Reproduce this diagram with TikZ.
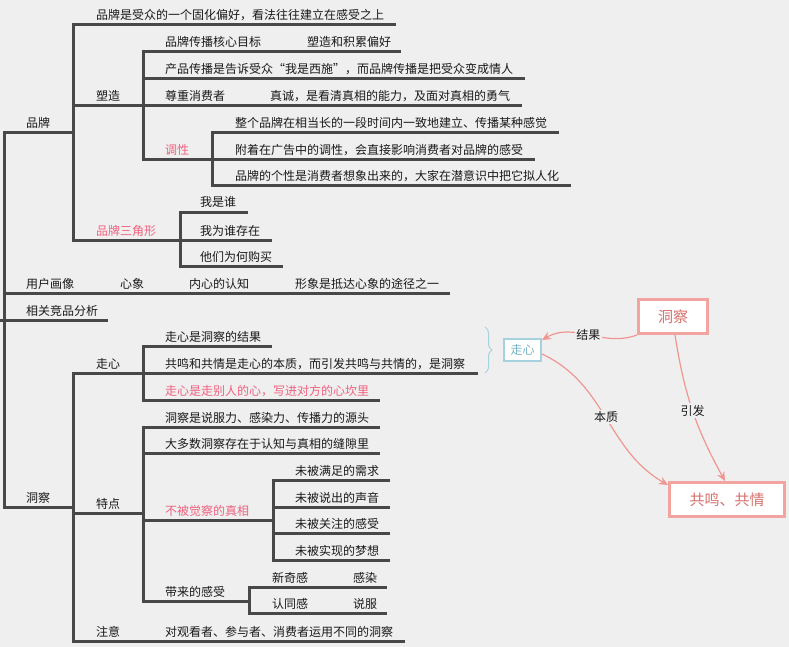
\documentclass[tikz,border=0pt]{standalone}
\usepackage{fontspec}
\setmainfont{Noto Sans CJK SC}
\usepackage{tikz}
\usetikzlibrary{positioning, calc, arrows.meta, decorations.pathreplacing}
\definecolor{canvas}{RGB}{239, 239, 239}
\definecolor{branchgray}{RGB}{72, 72, 72}
\definecolor{ink}{RGB}{25, 25, 25}
\definecolor{accentpink}{RGB}{240, 98, 128}
\definecolor{notepink}{RGB}{242, 165, 160}
\definecolor{notetext}{RGB}{214, 112, 108}
\definecolor{arrowpink}{RGB}{240, 150, 145}
\definecolor{noteblue}{RGB}{166, 210, 224}
\definecolor{bluetext}{RGB}{120, 180, 200}

\begin{document}
\begin{tikzpicture}[
    x=1pt, y=1pt,
    font=\fontsize{12}{14}\selectfont,
    item/.style={anchor=base west, inner sep=0pt, text=ink},
    hot/.style={item, text=accentpink},
    branch/.style={draw=branchgray, line width=3pt},
    note/.style={draw=notepink, line width=3pt, fill=white, text=notetext, font=\fontsize{15}{18}\selectfont, minimum height=34pt, inner sep=0pt},
    rel/.style={draw=arrowpink, line width=1.2pt, -{Stealth[length=9pt, width=8pt]}},
    rellabel/.style={fill=canvas, inner sep=1.5pt, text=ink}
  ]
  \fill[canvas] (0,0) rectangle (789,-647);
  \useasboundingbox (0,0) rectangle (789,-647);

  % Branch: 品牌
  \node[item] (br) at (26,-128) {品牌};
  \node[item] (br1) at (96,-20) {品牌是受众的一个固化偏好，看法往往建立在感受之上};
  \node[item] (sz) at (96,-101) {塑造};
  \node[item] (sz1a) at (165,-47) {品牌传播核心目标};
  \node[item] (sz1b) at (307,-47) {塑造和积累偏好};
  \node[item] (sz2) at (165,-74) {产品传播是告诉受众“我是西施”，而品牌传播是把受众变成情人};
  \node[item] (sz3a) at (165,-101) {尊重消费者};
  \node[item] (sz3b) at (270,-101) {真诚，是看清真相的能力，及面对真相的勇气};
  \node[hot] (tx) at (165,-155) {调性};
  \node[item] (tx1) at (235,-128) {整个品牌在相当长的一段时间内一致地建立、传播某种感觉};
  \node[item] (tx2) at (235,-155) {附着在广告中的调性，会直接影响消费者对品牌的感受};
  \node[item] (tx3) at (235,-181) {品牌的个性是消费者想象出来的，大家在潜意识中把它拟人化};
  \node[hot] (sj) at (96,-235) {品牌三角形};
  \node[item] (sj1) at (200,-207) {我是谁};
  \node[item] (sj2) at (200,-235) {我为谁存在};
  \node[item] (sj3) at (200,-261) {他们为何购买};

  \coordinate (root) at (4,-300);
  \coordinate (br-j) at (73,-133);
  \coordinate (sz-j) at (143,-106);
  \coordinate (tx-j) at (212,-160);
  \coordinate (sj-j) at (180,-240);
  \coordinate (br1-e) at (396,-25);
  \coordinate (sz1-e) at (401,-52);
  \coordinate (sz2-e) at (525,-79);
  \coordinate (sz3-e) at (522,-106);
  \coordinate (tx1-e) at (559,-133);
  \coordinate (tx2-e) at (535,-160);
  \coordinate (tx3-e) at (571,-186);
  \coordinate (sj1-e) at (248,-212);
  \coordinate (sj2-e) at (272,-240);
  \coordinate (sj3-e) at (283,-266);

  \draw[branch] (br1-e) -| (br-j) |- (sj-j);
  \draw[branch] (br-j |- sz-j) -- (sz3-e);
  \draw[branch] (sz1-e) -| (sz-j) |- (tx-j);
  \draw[branch] (sz-j |- sz2-e) -- (sz2-e);
  \draw[branch] (tx1-e) -| (tx-j) |- (tx3-e);
  \draw[branch] (tx-j) -- (tx2-e);
  \draw[branch] (sj1-e) -| (sj-j) |- (sj3-e);
  \draw[branch] (sj-j) -- (sj2-e);

  % Branch: 用户画像, 相关竞品分析
  \node[item] (hx) at (26,-288) {用户画像};
  \node[item] (hx1) at (120,-288) {心象};
  \node[item] (hx2) at (189,-288) {内心的认知};
  \node[item] (hx3) at (295,-288) {形象是抵达心象的途径之一};
  \node[item] (jp) at (26,-315) {相关竞品分析};
  \coordinate (hx-e) at (450,-293);
  \coordinate (jp-s) at (0,-320);
  \coordinate (jp-e) at (108,-320);
  \draw[branch] (root |- hx-e) -- (hx-e);
  \draw[branch] (jp-s) -- (jp-e);

  % Branch: 洞察
  \node[item] (dc) at (26,-502) {洞察};
  \node[item] (zx) at (96,-368) {走心};
  \node[item] (zx1) at (165,-341) {走心是洞察的结果};
  \node[item] (zx2) at (165,-368) {共鸣和共情是走心的本质，而引发共鸣与共情的，是洞察};
  \node[hot] (zx3) at (165,-395) {走心是走别人的心，写进对方的心坎里};
  \node[item] (td) at (96,-508) {特点};
  \node[item] (td1) at (165,-422) {洞察是说服力、感染力、传播力的源头};
  \node[item] (td2) at (165,-448) {大多数洞察存在于认知与真相的缝隙里};
  \node[hot] (zh) at (165,-515) {不被觉察的真相};
  \node[item] (zh1) at (295,-475) {未被满足的需求};
  \node[item] (zh2) at (295,-502) {未被说出的声音};
  \node[item] (zh3) at (295,-528) {未被关注的感受};
  \node[item] (zh4) at (295,-555) {未被实现的梦想};
  \node[item] (gs) at (165,-596) {带来的感受};
  \node[item] (gs1a) at (272,-582) {新奇感};
  \node[item] (gs1b) at (353,-582) {感染};
  \node[item] (gs2a) at (272,-608) {认同感};
  \node[item] (gs2b) at (353,-608) {说服};
  \node[item] (zy) at (96,-636) {注意};
  \node[item] (zy1) at (165,-636) {对观看者、参与者、消费者运用不同的洞察};

  \coordinate (dc-j) at (73,-507);
  \coordinate (zx-j) at (143,-373);
  \coordinate (td-j) at (143,-513);
  \coordinate (zh-j) at (273,-520);
  \coordinate (gs-j) at (249,-601);
  \coordinate (zx1-e) at (272,-346);
  \coordinate (zx2-e) at (478,-373);
  \coordinate (zx3-e) at (380,-400);
  \coordinate (td1-e) at (380,-427);
  \coordinate (td2-e) at (380,-453);
  \coordinate (zh1-e) at (390,-480);
  \coordinate (zh2-e) at (390,-507);
  \coordinate (zh3-e) at (390,-533);
  \coordinate (zh4-e) at (390,-560);
  \coordinate (gs1-e) at (387,-587);
  \coordinate (gs2-e) at (387,-613);
  \coordinate (zy-e) at (405,-641);

  \draw[branch] (br-j) -| (root) |- (dc-j);
  \draw[branch] (zx-j) -| (dc-j) |- (zy-e);
  \draw[branch] (dc-j |- td-j) -- (td-j);
  \draw[branch] (zx1-e) -| (zx-j) |- (zx3-e);
  \draw[branch] (zx-j) -- (zx2-e);
  \draw[branch] (td1-e) -| (td-j) |- (gs-j);
  \draw[branch] (td-j |- td2-e) -- (td2-e);
  \draw[branch] (td-j |- zh-j) -- (zh-j);
  \draw[branch] (zh1-e) -| (zh-j) |- (zh4-e);
  \draw[branch] (zh-j |- zh2-e) -- (zh2-e);
  \draw[branch] (zh-j |- zh3-e) -- (zh3-e);
  \draw[branch] (gs1-e) -| (gs-j) |- (gs2-e);

  % Summary: brace, boxes and relations
  \coordinate (brace-t) at (485,-327);
  \coordinate (brace-b) at (485,-373);
  \draw[noteblue, line width=1pt, decorate, decoration={brace, amplitude=7pt}] (brace-t) -- (brace-b);
  \node[draw=noteblue, line width=2pt, fill=white, text=bluetext, minimum width=37pt, minimum height=22pt, inner sep=0pt] (zxbox) at (522.5,-350) {走心};
  \node[note, minimum width=69pt] (dcbox) at (673,-316.5) {洞察};
  \node[note, minimum width=115pt] (gmbox) at (727,-499.5) {共鸣、共情};

  \draw[rel] (dcbox.south west) to[out=200, in=30] node[rellabel] {结果} ([yshift=-2pt]zxbox.north east);
  \draw[rel] ([yshift=-4pt]zxbox.east) to[out=-25, in=150] node[rellabel] {本质} ([yshift=-4pt]gmbox.north west);
  \draw[rel] ([xshift=2pt]dcbox.south) to[bend right=10] node[rellabel] {引发} ([xshift=-2pt]gmbox.north);
\end{tikzpicture}
\end{document}
